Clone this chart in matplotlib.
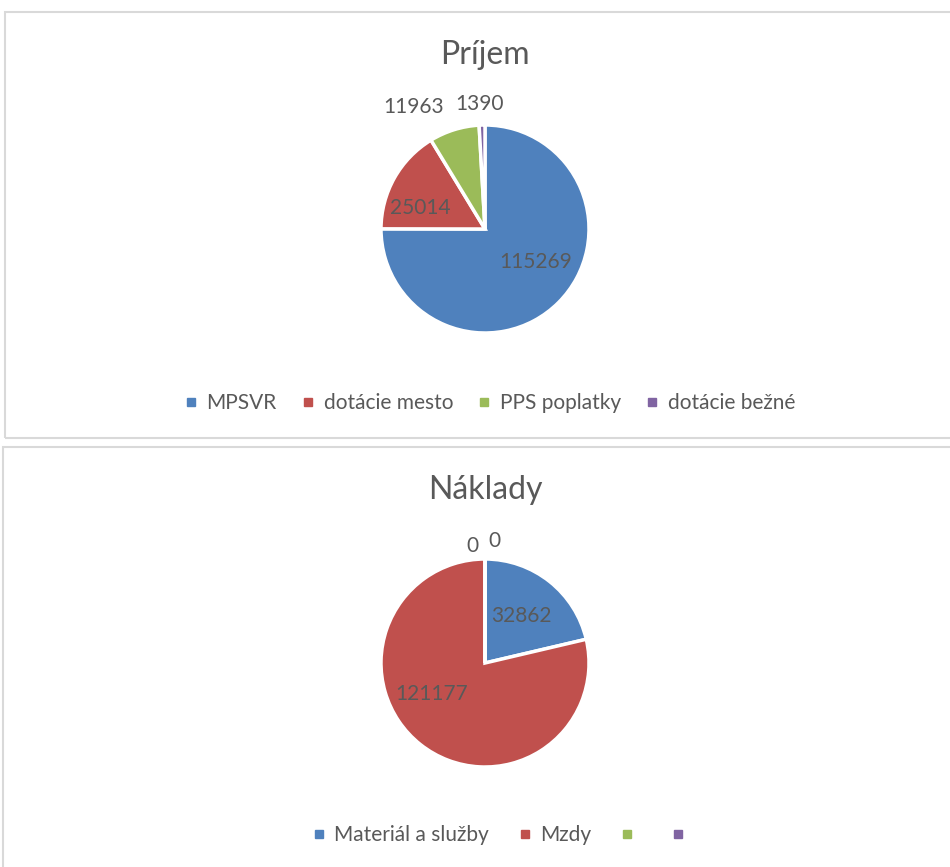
import numpy as np
import matplotlib
matplotlib.use("Agg")
import matplotlib.pyplot as plt
from matplotlib.patches import Rectangle
from matplotlib.lines import Line2D

# ---- data ----
income_title = "Príjem"
income_labels = ["MPSVR", "dotácie mesto", "PPS poplatky", "dotácie bežné"]
income_values = [115269, 25014, 11963, 1390]

cost_title = "Náklady"
cost_labels = ["Materiál a služby", "Mzdy", "", ""]
cost_values = [32862, 121177, 0, 0]

colors = ["#4F81BD", "#C0504D", "#9BBB59", "#8064A2"]
text_color = "#595959"

plt.rcParams['font.family'] = ['Lato', 'DejaVu Sans']

W, H = 950, 867
fig = plt.figure(figsize=(W / 100, H / 100), dpi=100)

def px_rect(x0, y0, x1, y1):
    return [x0 / W, 1 - y1 / H, (x1 - x0) / W, (y1 - y0) / H]

# panel borders
for (x0, y0, x1, y1) in [(5, 12, 960, 438), (3, 447, 960, 880)]:
    fig.patches.append(Rectangle((x0 / W, 1 - y1 / H), (x1 - x0) / W, (y1 - y0) / H,
                                 transform=fig.transFigure, fill=False,
                                 edgecolor="#D9D9D9", linewidth=1.5))

# label placements (radius fraction, angle in degrees) per slice
income_label_pos = [(0.58, -33.4), (0.65, 161.8), (1.36, 120.5), (1.20, 92.7)]
cost_label_pos = [(0.57, 51.8), (0.59, 210.0), (1.13, 96.3), (1.18, 85.8)]

def draw_pie(cx, cy, R, values, labels, label_pos, title, title_y, legend_x, legend_y, colsp):
    ax = fig.add_axes(px_rect(cx - 2 * R, cy - 2 * R, cx + 2 * R, cy + 2 * R))
    wedges, _ = ax.pie(values, colors=colors, startangle=90, counterclock=False,
                       radius=1.0, wedgeprops=dict(edgecolor='white', linewidth=2.5))
    ax.set_xlim(-2, 2)
    ax.set_ylim(-2, 2)
    ax.set_aspect('equal')
    ax.axis('off')
    for v, (r, a) in zip(values, label_pos):
        t = np.deg2rad(a)
        ax.text(r * np.cos(t), r * np.sin(t), f"{v}", ha='center', va='center',
                fontsize=15, color=text_color)
    fig.text(cx / W, 1 - title_y / H, title, ha='center', va='center',
             fontsize=23, color=text_color)
    handles = [Line2D([], [], marker='s', linestyle='none', markersize=6,
                      markerfacecolor=c, markeredgecolor=c) for c in colors]
    fig.legend(handles, labels, loc='center', bbox_to_anchor=(legend_x / W, 1 - legend_y / H),
               ncol=4, frameon=False, fontsize=15, labelcolor=text_color,
               handlelength=0.6, handletextpad=0.45, columnspacing=colsp)

draw_pie(485, 229, 104, income_values, income_labels, income_label_pos, income_title,
         55, 490, 403, 1.2)
draw_pie(485, 663, 104, cost_values, cost_labels, cost_label_pos, cost_title,
         490, 503, 835, 1.4)

fig.savefig("out.png", dpi=100)
